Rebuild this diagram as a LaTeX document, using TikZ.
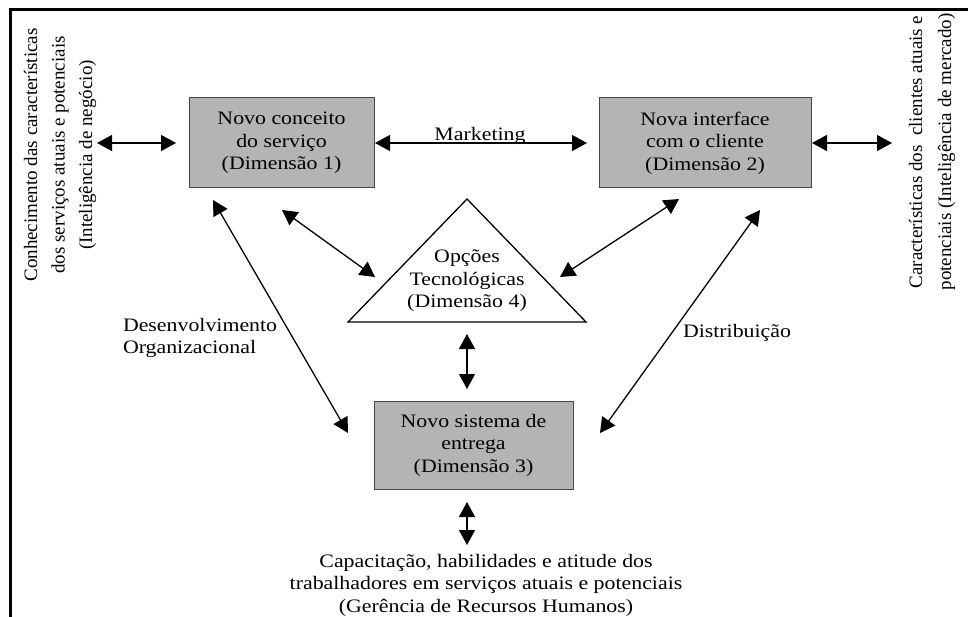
\documentclass[tikz,border=0pt]{standalone}
\usepackage{fontspec}
\setmainfont[FakeStretch=1.15]{Liberation Serif}
\newfontfamily\vfont{Liberation Serif}
\usetikzlibrary{arrows.meta}
\definecolor{boxgray}{RGB}{180,180,180}
\definecolor{boxedge}{RGB}{70,70,70}
\begin{document}
\begin{tikzpicture}[x=1pt,y=-1pt,
  every node/.style={inner sep=0pt, outer sep=0pt},
  txt/.style={font=\fontsize{19}{22.5}\selectfont, align=center},
  dimbox/.style={draw=boxedge, line width=1pt, fill=boxgray, txt},
  vtxt/.style={font=\vfont\fontsize{19}{27.5}\selectfont, align=center, rotate=90},
  link/.style={line width=1.3pt, {Triangle[length=15pt,width=16pt]}-{Triangle[length=15pt,width=16pt]}}
]
\useasboundingbox (0,0) rectangle (968,617);
% frame
\draw[line width=3pt] (10,617) -- (10,10) -- (968,10);

% boxes
\node[dimbox, minimum width=185pt, minimum height=90pt] (b1) at (281.5,143) {Novo conceito\\do serviço\\(Dimensão 1)};
\node[dimbox, minimum width=212pt, minimum height=90pt] (b2) at (705,143) {Nova interface\\com o cliente\\(Dimensão 2)};
\node[dimbox, minimum width=199pt, minimum height=88pt] (b3) at (473.5,445) {Novo sistema de\\entrega\\(Dimensão 3)};

% triangle
\coordinate (tA) at (467,199);
\coordinate (tL) at (348,322);
\coordinate (tR) at (586,322);
\draw[line width=1.3pt, fill=white] (tA) -- (tL) -- (tR) -- cycle;
\node[txt] (tri) at (467,281) {Opções\\Tecnológicas\\(Dimensão 4)};

% side texts
\node[vtxt] (lt) at (60,155) {Conhecimento das características\\dos serviços atuais e potenciais\\(Inteligência de negócio)};
\node[vtxt, font=\vfont\fontsize{19}{29}\selectfont] (rt) at (932,152) {Características dos \ clientes atuais e\\potenciais (Inteligência de mercado)};
\node[txt] (bt) at (486,585) {Capacitação, habilidades e atitude dos\\trabalhadores em serviços atuais e potenciais\\(Gerência de Recursos Humanos)};

% labels
\node[txt, anchor=base] (mk) at (480,141) {Marketing};
\node[txt, align=left, anchor=north west] (dv) at (123,318) {Desenvolvimento\\Organizacional};
\node[txt, anchor=west] (ds) at (683,333) {Distribuição};

% arrow end points
\coordinate (lA) at (97,143);   \coordinate (lB) at (176,143);
\coordinate (mA) at (375,143);  \coordinate (mB) at (587,143);
\coordinate (rA) at (812,143);  \coordinate (rB) at (892,143);
\coordinate (p1) at (282,210);  \coordinate (p2) at (375,277);
\coordinate (q1) at (679,199);  \coordinate (q2) at (560,277);
\coordinate (v1) at (467,334);  \coordinate (v2) at (467,389);
\coordinate (d1) at (213,200);  \coordinate (d2) at (348,433);
\coordinate (e1) at (760,210);  \coordinate (e2) at (600,433);
\coordinate (h1) at (467,502);  \coordinate (h2) at (467,545);

\draw[link] (lA) -- (lB);
\draw[link] (mA) -- (mB);
\draw[link] (rA) -- (rB);
\draw[link] (p1) -- (p2);
\draw[link] (q1) -- (q2);
\draw[link] (v1) -- (v2);
\draw[link] (d1) -- (d2);
\draw[link] (e1) -- (e2);
\draw[link] (h1) -- (h2);
\end{tikzpicture}
\end{document}
